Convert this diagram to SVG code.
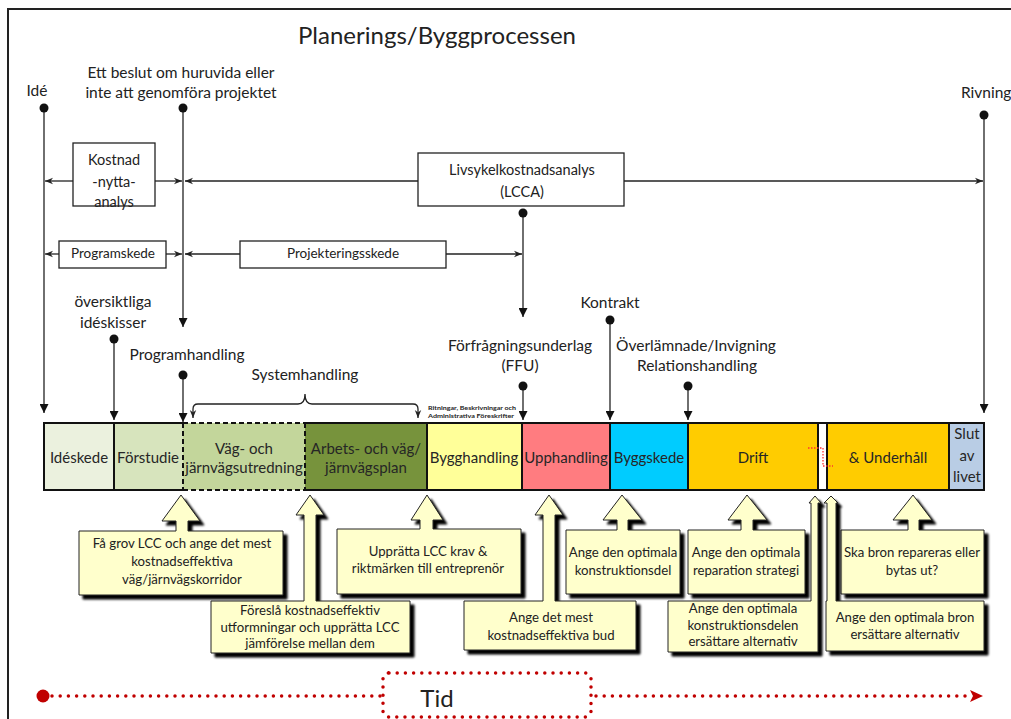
<svg xmlns="http://www.w3.org/2000/svg" width="1011" height="719" viewBox="0 0 1011 719">
<defs>
<style>
text{font-family:Lato,"Open Sans","Liberation Sans",sans-serif;fill:#222}
.lbl{font-size:15.5px;text-anchor:middle}
.bt{font-size:14.5px;text-anchor:middle}
.box{fill:#fff;stroke:#222;stroke-width:1.3}
.ln{stroke:#222;stroke-width:1.3;fill:none}
.ph{font-size:15px;text-anchor:middle;fill:#262626}
.seg{stroke:none}
.bd{stroke:#111;stroke-width:2;fill:none}
.dsh{stroke:#111;stroke-width:2;fill:none;stroke-dasharray:5 3}
.co{fill:#FFFFCC;stroke:#222;stroke-width:1;filter:url(#sh)}
.ct{font-size:13.2px;text-anchor:middle;fill:#222}
.red{stroke:#C00000;stroke-width:3.5;fill:none;stroke-dasharray:0 8.2;stroke-linecap:round}
</style>
<marker id="ah" viewBox="0 0 10 10" refX="10" refY="5" markerWidth="8" markerHeight="8" markerUnits="userSpaceOnUse" orient="auto-start-reverse"><path d="M0,1 L10,5 L0,9 L3,5 z" fill="#222"/></marker>
<marker id="dn" viewBox="0 0 10 10" refX="10" refY="5" markerWidth="9" markerHeight="9" markerUnits="userSpaceOnUse" orient="auto-start-reverse"><path d="M0,0 L10,5 L0,10 z" fill="#111"/></marker>
<filter id="sh" x="-10%" y="-10%" width="130%" height="130%"><feOffset in="SourceAlpha" dx="4" dy="4" result="o"/><feGaussianBlur in="o" stdDeviation="1" result="b"/><feMerge><feMergeNode in="b"/><feMergeNode in="SourceGraphic"/></feMerge></filter>
</defs>
<rect x="0" y="0" width="1011" height="719" fill="#fff"/>
<rect x="8" y="9" width="1020" height="730" fill="none" stroke="#222" stroke-width="2"/>
<text x="437" y="44" style="font-size:24px;text-anchor:middle" fill="#111">Planerings/Byggprocessen</text>

<g id="connectors">
<line class="ln" x1="44" y1="108" x2="44" y2="413" marker-end="url(#dn)"/>
<line class="ln" x1="183" y1="108" x2="183" y2="327" marker-end="url(#dn)"/>
<line class="ln" x1="984" y1="115" x2="984" y2="413" marker-end="url(#dn)"/>
<line class="ln" x1="523" y1="213" x2="523" y2="317" marker-end="url(#dn)"/>
<line class="ln" x1="114" y1="339" x2="114" y2="420" marker-end="url(#dn)"/>
<line class="ln" x1="183" y1="375" x2="183" y2="422" marker-end="url(#dn)"/>
<line class="ln" x1="523" y1="386" x2="523" y2="420" marker-end="url(#dn)"/>
<line class="ln" x1="610" y1="320" x2="610" y2="420" marker-end="url(#dn)"/>
<line class="ln" x1="688" y1="386" x2="688" y2="420" marker-end="url(#dn)"/>
<circle cx="44" cy="108" r="4.5" fill="#111"/>
<circle cx="183" cy="108" r="4.5" fill="#111"/>
<circle cx="984" cy="115" r="4.5" fill="#111"/>
<circle cx="523" cy="213" r="4.5" fill="#111"/>
<circle cx="114" cy="339" r="4.5" fill="#111"/>
<circle cx="183" cy="375" r="4.5" fill="#111"/>
<circle cx="523" cy="386" r="4.5" fill="#111"/>
<circle cx="610" cy="320" r="4.5" fill="#111"/>
<circle cx="688" cy="386" r="4.5" fill="#111"/>
<line class="ln" x1="73" y1="181" x2="45" y2="181" marker-end="url(#ah)"/>
<line class="ln" x1="155" y1="181" x2="182" y2="181" marker-end="url(#ah)"/>
<line class="ln" x1="418" y1="181" x2="185" y2="181" marker-end="url(#ah)"/>
<line class="ln" x1="624" y1="181" x2="983" y2="181" marker-end="url(#ah)"/>
<line class="ln" x1="59" y1="254" x2="45" y2="254" marker-end="url(#ah)"/>
<line class="ln" x1="166" y1="254" x2="182" y2="254" marker-end="url(#ah)"/>
<line class="ln" x1="240" y1="254" x2="185" y2="254" marker-end="url(#ah)"/>
<line class="ln" x1="446" y1="254" x2="522" y2="254" marker-end="url(#ah)"/>
<path class="ln" d="M193,418 L193,409 Q193,404 198,404 L298,404 Q305,404 305,394 Q305,404 312,404 L413,404 Q418,404 418,409 L418,418" marker-start="url(#ah)" marker-end="url(#ah)"/>
</g>

<g id="labels">
<text class="lbl" x="37" y="96">Idé</text>
<text class="lbl" x="181" y="78">Ett beslut om huruvida eller</text>
<text class="lbl" x="181" y="98">inte att genomföra projektet</text>
<text class="lbl" x="961" y="98" style="text-anchor:start">Rivning</text>
<text class="lbl" x="113" y="307">översiktliga</text>
<text class="lbl" x="113" y="328">idéskisser</text>
<text class="lbl" x="187" y="360">Programhandling</text>
<text class="lbl" x="305" y="380">Systemhandling</text>
<text class="lbl" x="610" y="308">Kontrakt</text>
<text class="lbl" x="520" y="351">Förfrågningsunderlag</text>
<text class="lbl" x="520" y="371">(FFU)</text>
<text class="lbl" x="696" y="351">Överlämnade/Invigning</text>
<text class="lbl" x="697" y="371">Relationshandling</text>
<text x="428" y="410" style="font-size:5.5px;font-weight:bold" textLength="88" lengthAdjust="spacingAndGlyphs">Ritningar, Beskrivningar och</text>
<text x="428" y="418" style="font-size:5.5px;font-weight:bold" textLength="86" lengthAdjust="spacingAndGlyphs">Administrativa Föreskrifter</text>
</g>

<g id="kostnad"><rect class="box" x="73" y="143" width="82" height="63"/>
<text class="bt" x="114" y="165">Kostnad</text>
<text class="bt" x="114" y="187">-nytta-</text>
<text class="bt" x="114" y="207">analys</text></g>
<g id="lcca"><rect class="box" x="418" y="153" width="206" height="53"/>
<text class="bt" x="522" y="175">Livsykelkostnadsanalys</text>
<text class="bt" x="522" y="197">(LCCA)</text></g>
<g id="programskede"><rect class="box" x="59" y="241" width="107" height="27"/>
<text class="bt" x="113" y="258" style="font-size:13.5px">Programskede</text></g>
<g id="projekteringsskede"><rect class="box" x="240" y="241" width="206" height="27"/>
<text class="bt" x="343" y="258" style="font-size:13.5px">Projekteringsskede</text></g>

<g id="phasebar">
<rect class="seg" x="44" y="423" width="70" height="67" fill="#EBF1DE"/>
<rect class="seg" x="114" y="423" width="69" height="67" fill="#D7E4BD"/>
<rect class="seg" x="183" y="423" width="122" height="67" fill="#C3D69B"/>
<rect class="seg" x="305" y="423" width="122" height="67" fill="#77933C"/>
<rect class="seg" x="427" y="423" width="95" height="67" fill="#FFFF99"/>
<rect class="seg" x="522" y="423" width="88" height="67" fill="#FF7C80"/>
<rect class="seg" x="610" y="423" width="78" height="67" fill="#00CCFF"/>
<rect class="seg" x="688" y="423" width="130" height="67" fill="#FFCC00"/>
<rect class="seg" x="827" y="423" width="122" height="67" fill="#FFCC00"/>
<rect class="seg" x="949" y="423" width="35" height="67" fill="#B9CDE5"/>
<path class="bd" d="M43,423 H183 M305,423 H985 M43,490 H183 M305,490 H985 M44,423 V490 M114,423 V490 M427,423 V490 M522,423 V490 M610,423 V490 M688,423 V490 M818,423 V490 M827,423 V490 M949,423 V490 M984,423 V490"/>
<path class="dsh" d="M183,423 H305 M183,490 H305 M183,423 V490 M305,423 V490"/>
<path d="M808,448 H823 V466 H833" fill="none" stroke="#FF3030" stroke-width="1.3" stroke-dasharray="1.5 1.5"/>
<text class="ph" x="79" y="463">Idéskede</text>
<text class="ph" x="148" y="463">Förstudie</text>
<text class="ph" x="244" y="454">Väg- och</text>
<text class="ph" x="244" y="473">järnvägsutredning</text>
<text class="ph" x="366" y="454">Arbets- och väg/</text>
<text class="ph" x="366" y="473">järnvägsplan</text>
<text class="ph" x="474" y="463">Bygghandling</text>
<text class="ph" x="566" y="463">Upphandling</text>
<text class="ph" x="649" y="463">Byggskede</text>
<text class="ph" x="753" y="463">Drift</text>
<text class="ph" x="888" y="463">&amp; Underhåll</text>
<text class="ph" x="967" y="439">Slut</text>
<text class="ph" x="967" y="461">av</text>
<text class="ph" x="967" y="482">livet</text>
</g>

<g id="callout1"><path class="co" d="M79,531 H176 V521 H162 L181,495 L200,521 H188 V531 H283 V595 H79 Z"/>
<text class="ct" x="182" y="548">Få grov LCC och ange det  mest</text>
<text class="ct" x="182" y="566">kostnadseffektiva</text>
<text class="ct" x="182" y="584">väg/järnvägskorridor</text></g>
<g id="callout2"><path class="co" d="M211,601 H304 V515 H296 L310,495 L324,515 H316 V601 H410 V653 H211 Z"/>
<text class="ct" x="310" y="615">Föreslå kostnadseffektiv</text>
<text class="ct" x="310" y="632">utformningar och upprätta LCC</text>
<text class="ct" x="310" y="648">jämförelse mellan dem</text></g>
<g id="callout3"><path class="co" d="M337,529 H420 V520 H411 L427,495 L443,520 H433 V529 H521 V594 H337 Z"/>
<text class="ct" x="428" y="556">Upprätta LCC krav &amp;</text>
<text class="ct" x="428" y="573">riktmärken till entreprenör</text></g>
<g id="callout4"><path class="co" d="M464,601 H543 V515 H535 L549,495 L563,515 H555 V601 H636 V650 H464 Z"/>
<text class="ct" x="551" y="622">Ange det mest</text>
<text class="ct" x="551" y="640">kostnadseffektiva bud</text></g>
<g id="callout5"><path class="co" d="M566,530 H617 V520 H603 L622,495 L642,520 H628 V530 H680 V594 H566 Z"/>
<text class="ct" x="623" y="557">Ange  den optimala</text>
<text class="ct" x="623" y="575">konstruktionsdel</text></g>
<g id="callout6"><path class="co" d="M688,530 H741 V520 H728 L747,495 L767,520 H753 V530 H805 V594 H688 Z"/>
<text class="ct" x="746" y="557">Ange  den optimala</text>
<text class="ct" x="746" y="575">reparation strategi</text></g>
<g id="callout7"><path class="co" d="M668,601 H811 V503 H809 L815,496 L821,503 H818 V601 V652 H668 Z"/>
<text class="ct" x="743" y="613">Ange  den optimala</text>
<text class="ct" x="743" y="630">konstruktionsdelen</text>
<text class="ct" x="743" y="646">ersättare alternativ</text></g>
<g id="callout8"><path class="co" d="M841,530 H908 V520 H893 L913,495 L932,520 H919 V530 H984 V594 H841 Z"/>
<text class="ct" x="912" y="557">Ska bron repareras eller</text>
<text class="ct" x="912" y="575">bytas ut?</text></g>
<g id="callout9"><path class="co" d="M826,601 H827 V503 H824 L831,496 L838,503 H836 V601 H984 V651 H826 Z"/>
<text class="ct" x="905" y="622">Ange  den optimala bron</text>
<text class="ct" x="905" y="639">ersättare alternativ</text></g>

<g id="timeline">
<circle cx="43" cy="696" r="6.5" fill="#C00000"/>
<line class="red" x1="52" y1="696" x2="380" y2="696"/>
<line class="red" x1="596" y1="696" x2="972" y2="696"/>
<path d="M970,690 L983,696 L970,702 L973,696 Z" fill="#C00000"/>
<rect class="red" x="383" y="673" width="208" height="44" rx="6"/>
<text x="437" y="707" style="font-size:24px;text-anchor:middle" fill="#111">Tid</text>
</g>
</svg>
